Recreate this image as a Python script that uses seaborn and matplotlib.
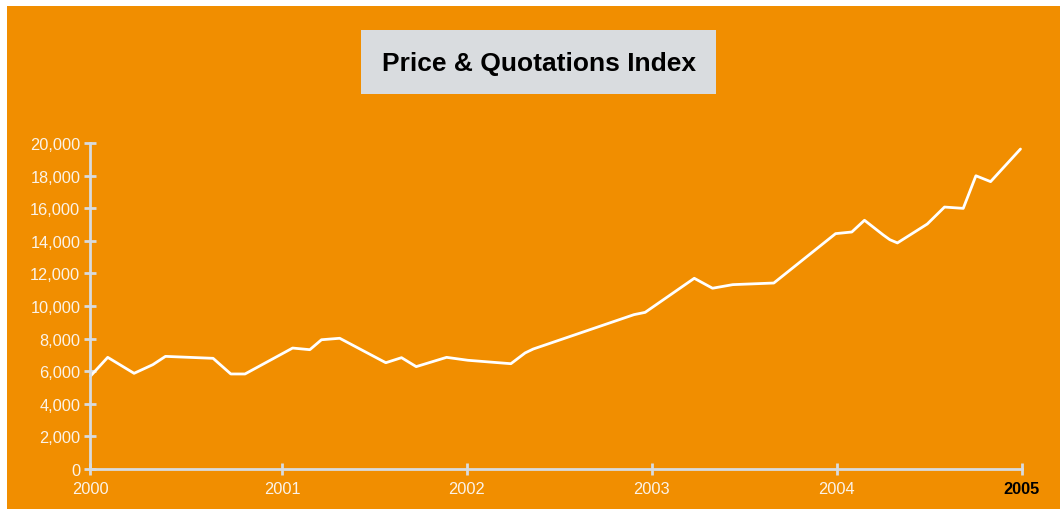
import matplotlib

matplotlib.use("Agg")
import matplotlib.pyplot as plt
import matplotlib.ticker as mticker
import pandas as pd
import seaborn as sns
from matplotlib.patches import Rectangle

# ─── Data ───
dates = [
    "1999-12-20", "2000-01-23", "2000-03-15", "2000-04-21", "2000-05-16",
    "2000-08-18", "2000-09-22", "2000-10-20", "2001-01-22", "2001-02-25",
    "2001-03-20", "2001-04-25", "2001-07-25", "2001-08-25", "2001-09-23",
    "2001-11-22", "2002-01-03", "2002-03-29", "2002-04-26", "2002-05-12",
    "2002-11-27", "2002-12-19", "2003-03-26", "2003-05-01", "2003-06-10",
    "2003-08-30", "2003-12-30", "2004-01-31", "2004-02-25", "2004-04-02",
    "2004-04-15", "2004-04-30", "2004-06-28", "2004-08-01", "2004-09-07",
    "2004-10-02", "2004-10-31", "2004-12-29",
]
values = [
    5700, 6850, 5870, 6400, 6910,
    6790, 5830, 5830, 7420, 7320,
    7930, 8020, 6520, 6830, 6280,
    6850, 6670, 6460, 7120, 7360,
    9470, 9610, 11700, 11090, 11310,
    11410, 14440, 14540, 15260, 14360,
    14070, 13870, 15030, 16070, 15990,
    17990, 17630, 19630,
]
title = "Price & Quotations Index"
y_ticks = list(range(0, 20001, 2000))
# first tick sits on the axis start, the rest on Jan 1
x_tick_dates = ["1999-12-19", "2001-01-01", "2002-01-01", "2003-01-01",
                "2004-01-01", "2005-01-01"]
x_tick_labels = ["2000", "2001", "2002", "2003", "2004", "2005"]

# ─── Style ───
ORANGE = "#f18e00"
AXIS_GRAY = "#d8dbde"
LABEL_COLOR = "#fbf3e8"

sns.set_style("ticks")
plt.rcParams["font.family"] = ["Liberation Sans", "DejaVu Sans"]

df = pd.DataFrame({"date": pd.to_datetime(dates), "value": values})

fig = plt.figure(figsize=(10.6, 5.1), dpi=100, facecolor="white")
W, H = 1060, 510

# orange panel with a thin white margin on top and left
fig.patches.append(Rectangle((7 / W, -0.05), 1.1, 1.05 - 7 / H, transform=fig.transFigure,
                             facecolor=ORANGE, edgecolor="none", zorder=-5))

ax = fig.add_axes([90 / W, 1 - 470 / H, (1022 - 90) / W, (470 - 144) / H])
ax.set_facecolor("none")
ax.set_zorder(2)

sns.lineplot(data=df, x="date", y="value", ax=ax, color="white", linewidth=2.0,
             clip_on=False)

ticks = pd.to_datetime(x_tick_dates)
ax.set_xlim(ticks[0], ticks[-1])
ax.set_ylim(0, 20000)
ax.set_yticks(y_ticks)
ax.yaxis.set_major_formatter(mticker.FuncFormatter(lambda v, _: f"{int(v):,}"))
ax.set_xticks(ticks)
ax.set_xticklabels(x_tick_labels)
ax.set_xlabel("")
ax.set_ylabel("")

for side in ["top", "right"]:
    ax.spines[side].set_visible(False)
for side in ["left", "bottom"]:
    ax.spines[side].set_color(AXIS_GRAY)
    ax.spines[side].set_linewidth(2)

ax.tick_params(axis="both", direction="inout", length=8, width=2, color=AXIS_GRAY,
               labelcolor=LABEL_COLOR, labelsize=11.8)
ax.tick_params(axis="y", pad=3)
ax.tick_params(axis="x", pad=5)

xlabels = ax.get_xticklabels()
xlabels[-1].set_color("black")
xlabels[-1].set_fontweight("bold")

# ─── Title box ───
fig.patches.append(Rectangle((361 / W, 1 - 95 / H), (716 - 361) / W, (95 - 31) / H,
                             transform=fig.transFigure, facecolor="#d9dcdf",
                             edgecolor="none", zorder=1))
fig.text(539 / W, 1 - 64 / H, title, ha="center", va="center", fontsize=19,
         fontweight="bold", color="black", zorder=3)

fig.savefig("out.png", dpi=100, facecolor=fig.get_facecolor())
